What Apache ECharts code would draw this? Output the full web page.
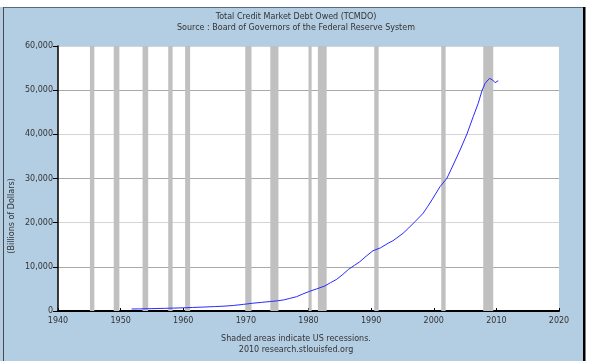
<!DOCTYPE html>
<html>
<head>
<meta charset="utf-8">
<script src="https://cdn.jsdelivr.net/npm/echarts@6/dist/echarts.min.js"></script>
<style>html,body{margin:0;padding:0;background:#fff}#c{width:592px;height:361px}</style>
</head>
<body>
<div id="c"></div>
<script>
// Data
var titleText = 'Total Credit Market Debt Owed (TCMDO)';
var subtitleText = 'Source : Board of Governors of the Federal Reserve System';
var yAxisName = '(Billions of Dollars)';
var footer1 = 'Shaded areas indicate US recessions.';
var footer2 = '2010 research.stlouisfed.org';

var years = [1951.75,1953,1955,1957,1958.5,1960,1961.5,1963,1965,1966.5,1968,1969.6,1971,1972.5,1973.9,1975,1976,1977,1978.1,1979,1980,1981.3,1982.6,1983.5,1984.5,1985.5,1986.4,1987.3,1988.2,1989.2,1990.3,1991.5,1992.7,1993.5,1995.1,1996,1997,1998.3,1999,1999.7,2001,2002.1,2003.1,2004.2,2005.3,2006.3,2007.1,2007.7,2008.2,2008.9,2009.4,2009.8,2010.3];
var debt = [450,480,540,600,660,720,800,880,1000,1100,1250,1500,1750,1950,2150,2300,2500,2850,3240,3800,4370,5000,5660,6400,7170,8300,9440,10300,11160,12400,13650,14300,15330,15920,17590,18800,20220,22120,23600,25130,28140,30040,33050,36450,40070,44000,47020,49880,51550,52680,52300,51690,52140];

var recessions = [[1945.1,1945.8],[1948.9,1949.8],[1953.5,1954.4],[1957.6,1958.3],[1960.3,1961.1],[1969.9,1970.9],[1973.9,1975.2],[1980.0,1980.5],[1981.5,1982.9],[1990.5,1991.2],[2001.2,2001.9],[2007.9,2009.5]];

var xTicks = {min:1940, max:2020, interval:10};
var yTicks = {min:0, max:60000, interval:10000};

var F = 'DejaVu Sans';
var chart = echarts.init(document.getElementById('c'));
var lineData = years.map(function(y,i){return [y, debt[i]];});

chart.setOption({
  animation:false,
  backgroundColor:'#b3cde3',
  grid:{left:58, top:46, right:33, bottom:50, show:true, backgroundColor:'#ffffff', borderWidth:0},
  xAxis:{type:'value', min:xTicks.min, max:xTicks.max, interval:xTicks.interval,
    axisLine:{lineStyle:{color:'#000', width:2}},
    axisTick:{show:true, inside:true, length:3, lineStyle:{color:'#000'}},
    axisLabel:{color:'#333', fontFamily:F, fontSize:8, margin:6,
      formatter:function(v){return String(v);}},
    splitLine:{show:false}},
  yAxis:{type:'value', min:yTicks.min, max:yTicks.max, interval:yTicks.interval,
    axisLine:{show:true, lineStyle:{color:'#000', width:1.5}},
    axisTick:{show:true, length:5, lineStyle:{color:'#000'}},
    axisLabel:{color:'#333', fontFamily:F, fontSize:8, margin:5,
      formatter:function(v){return v.toString().replace(/\B(?=(\d{3})+(?!\d))/g, ',');}},
    splitLine:{show:true, lineStyle:{color:['#d4d4d4','#a9a9a9'], width:1}}},
  series:[
    {type:'custom', z:1, silent:true, data:recessions,
      encode:{x:[0,1]},
      renderItem:function(params, api){
        var p0 = api.coord([api.value(0), yTicks.max]);
        var p1 = api.coord([api.value(1), yTicks.min]);
        return {type:'rect', shape:{x:p0[0], y:p0[1], width:p1[0]-p0[0], height:p1[1]-p0[1]},
          style:{fill:'#c0c0c0'}};
      }},
    {type:'line', z:3, data:lineData, showSymbol:false, silent:true,
      lineStyle:{color:'#2a2aff', width:1}}
  ],
  graphic:[
    {type:'rect', z:100, shape:{x:0,y:0,width:592,height:7}, style:{fill:'#fff'}},
    {type:'rect', z:100, shape:{x:585,y:0,width:7,height:361}, style:{fill:'#fff'}},
    {type:'rect', z:101, shape:{x:3,y:7,width:582,height:1}, style:{fill:'#5d6974'}},
    {type:'rect', z:101, shape:{x:3,y:7,width:1,height:354}, style:{fill:'#4a4a4a'}},
    {type:'rect', z:101, shape:{x:583,y:7,width:2.5,height:354}, style:{fill:'#000'}},
    {type:'text', z:101, x:296, y:17, style:{text:titleText, font:'8px "DejaVu Sans"', fill:'#333', align:'center', verticalAlign:'middle'}},
    {type:'text', z:101, x:296, y:28, style:{text:subtitleText, font:'8px "DejaVu Sans"', fill:'#333', align:'center', verticalAlign:'middle'}},
    {type:'text', z:101, x:12, y:216, rotation:Math.PI/2, style:{text:yAxisName, font:'8px "DejaVu Sans"', fill:'#333', align:'center', verticalAlign:'middle'}},
    {type:'text', z:101, x:296, y:339, style:{text:footer1, font:'8px "DejaVu Sans"', fill:'#333', align:'center', verticalAlign:'middle'}},
    {type:'text', z:101, x:296, y:350, style:{text:footer2, font:'8px "DejaVu Sans"', fill:'#333', align:'center', verticalAlign:'middle'}}
  ]
});
</script>
</body>
</html>
